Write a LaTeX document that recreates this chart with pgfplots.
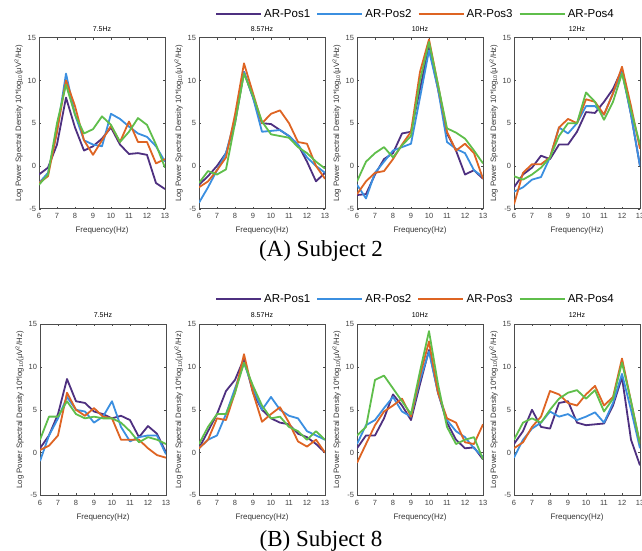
\documentclass[border=0pt]{standalone}
\usepackage{pgfplots}
\usepackage{pgfplotstable}
\pgfplotsset{compat=1.18}
\usepackage{fontspec}
\setmainfont{Liberation Sans}
\newfontfamily\capfont{Liberation Serif}

\definecolor{cA}{RGB}{78,48,128}
\definecolor{cB}{RGB}{59,143,224}
\definecolor{cC}{RGB}{222,100,35}
\definecolor{cD}{RGB}{95,190,75}

\pgfplotstableread{
x a b c d
6 -1.0 -2.0 -2.0 -2.2
6.5 -0.2 -0.8 -1.2 -1.0
7 2.5 4.0 4.0 5.0
7.5 8.0 10.8 10.0 9.5
8 4.5 6.0 7.0 6.0
8.5 1.8 3.0 3.0 3.8
9 2.3 2.5 1.3 4.3
9.5 3.2 2.3 3.0 5.8
10 4.5 6.1 4.7 4.8
10.5 2.5 5.5 2.8 2.8
11 1.4 4.6 5.2 4.0
11.5 1.5 3.8 2.8 5.6
12 1.3 3.4 2.8 4.8
12.5 -2.0 2.3 0.3 2.5
13 -2.7 0.5 0.8 -0.2
}\tAa
\pgfplotstableread{
x a b c d
6 -2.2 -4.3 -2.5 -2.0
6.5 -1.2 -2.5 -1.8 -0.6
7 0.0 -0.5 -0.5 -1.0
7.5 1.5 1.5 1.0 -0.4
8 5.0 5.5 6.0 5.0
8.5 11.0 11.0 12.0 10.8
9 8.0 8.0 8.5 8.2
9.5 5.0 4.0 5.0 5.2
10 4.9 4.1 6.1 3.7
10.5 4.2 4.2 6.5 3.5
11 3.5 3.5 5.0 3.3
11.5 2.5 2.5 2.8 2.2
12 0.5 1.0 2.6 1.5
12.5 -1.8 0.0 0.0 0.5
13 -0.8 -0.8 -1.5 -0.3
}\tAb
\pgfplotstableread{
x a b c d
6 -3.4 -2.2 -3.3 -1.8
6.5 -3.3 -3.8 -1.8 0.5
7 -1.0 -0.8 -0.8 1.5
7.5 0.8 0.5 -0.6 2.2
8 1.5 1.8 0.8 1.0
8.5 3.8 2.2 2.5 2.4
9 4.0 2.6 4.0 3.5
9.5 9.0 8.0 11.0 10.0
10 14.0 13.5 14.8 14.5
10.5 9.0 9.0 9.5 9.5
11 3.8 2.8 4.0 4.4
11.5 1.8 2.0 1.8 3.9
12 -1.0 1.5 2.6 3.2
12.5 -0.5 -0.5 1.5 1.8
13 -1.5 -1.3 -1.5 0.3
}\tAc
\pgfplotstableread{
x a b c d
6 -2.5 -3.0 -4.5 -1.2
6.5 -1.0 -2.5 -0.8 -1.6
7 -0.2 -1.6 0.2 -1.0
7.5 1.2 -1.3 0.2 -0.2
8 0.8 1.0 1.0 1.0
8.5 2.5 4.5 4.5 3.5
9 2.5 3.8 5.5 5.0
9.5 4.0 5.0 5.0 5.0
10 6.3 7.0 7.8 8.6
10.5 6.2 7.0 7.5 7.5
11 7.5 6.0 6.0 5.4
11.5 9.0 8.5 8.5 7.5
12 11.3 11.0 11.6 10.8
12.5 6.0 6.0 7.0 6.5
13 0.0 0.0 2.0 2.5
}\tAd
\pgfplotstableread{
x a b c d
6 0.5 -1.0 0.3 1.5
6.5 2.0 2.0 0.8 4.2
7 4.5 4.0 2.0 4.2
7.5 8.6 6.5 7.0 6.0
8 6.0 5.0 5.0 4.5
8.5 5.8 4.8 4.3 4.0
9 4.8 3.5 5.2 4.2
9.5 4.5 4.2 4.2 4.0
10 4.0 6.0 4.0 4.0
10.5 4.3 3.0 1.5 3.5
11 3.8 1.3 1.5 2.5
11.5 1.8 1.8 1.5 1.2
12 3.1 2.0 0.5 1.8
12.5 2.2 2.0 -0.3 1.5
13 0.0 -0.2 -0.6 1.0
}\tBa
\pgfplotstableread{
x a b c d
6 0.5 0.5 0.5 1.0
6.5 2.5 1.5 1.5 3.0
7 4.5 2.0 4.0 4.5
7.5 7.2 4.5 3.8 4.5
8 8.5 7.5 7.0 7.0
8.5 11.0 10.5 11.5 10.5
9 7.0 7.5 7.0 7.8
9.5 5.0 5.0 3.6 5.5
10 4.0 6.5 4.5 4.0
10.5 3.5 5.0 5.3 4.2
11 3.3 4.3 3.5 3.0
11.5 2.2 4.0 1.3 2.5
12 1.8 2.5 0.7 1.5
12.5 1.0 2.0 1.5 2.5
13 0.0 1.5 0.0 1.5
}\tBb
\pgfplotstableread{
x a b c d
6 0.5 1.0 -1.2 2.0
6.5 2.0 3.2 1.0 3.0
7 2.0 3.8 3.2 8.5
7.5 4.0 5.2 4.8 9.0
8 6.8 6.5 5.5 7.5
8.5 5.5 4.8 6.3 6.0
9 3.8 4.2 4.2 4.5
9.5 8.0 8.5 9.0 9.5
10 12.0 11.8 13.0 14.2
10.5 7.0 7.0 7.0 8.0
11 3.5 3.8 4.0 3.0
11.5 1.5 2.5 3.5 1.0
12 0.5 1.8 1.2 1.5
12.5 0.6 0.5 1.0 1.8
13 -0.8 -0.5 3.3 -0.8
}\tBc
\pgfplotstableread{
x a b c d
6 1.0 -0.6 0.5 1.5
6.5 2.5 1.5 1.2 3.5
7 5.0 2.8 3.0 4.0
7.5 3.0 3.5 4.2 3.5
8 2.8 4.8 7.2 5.0
8.5 5.8 4.2 6.8 6.3
9 6.0 4.5 5.8 7.0
9.5 3.5 3.8 5.5 7.3
10 3.2 4.2 6.8 6.3
10.5 3.3 4.7 7.8 7.3
11 3.4 3.5 5.5 4.8
11.5 5.5 5.8 6.5 6.3
12 8.8 9.2 11.0 10.5
12.5 1.5 5.0 6.0 6.0
13 -1.5 0.5 1.0 1.0
}\tBd

\pgfplotsset{panel/.style={
  scale only axis, width=126pt, height=171pt, anchor=north west,
  xmin=6, xmax=13, ymin=-5, ymax=15,
  xtick={6,...,13}, ytick={-5,0,5,10,15},
  tick align=inside, major tick length=2pt,
  axis line style={black!70, line width=0.5pt},
  tick style={black!70, line width=0.4pt},
  tick label style={font=\fontsize{7.5}{8}\selectfont, text=black!75},
  xticklabel style={yshift=-1.5pt},
  yticklabel style={xshift=0.5pt},
  /pgf/number format/assume math mode=true,
  title style={font=\fontsize{7}{8}\selectfont, yshift=-3pt},
  xlabel={Frequency(Hz)},
  xlabel style={font=\fontsize{8}{9}\selectfont, yshift=-1pt, text=black!80},
  ylabel={Log Power Spectral Density 10*log\textsubscript{10}(μV\textsuperscript{2}/Hz)},
  ylabel style={font=\fontsize{7.8}{8}\selectfont, yshift=-2pt, text=black!80},
  every axis plot/.append style={line width=1.8pt, line join=round},
  legend image code/.code={\draw[##1, line width=2.2pt] (0pt,0pt) -- (45pt,0pt);},
}}

\newcommand{\panel}[5]{%
\begin{axis}[panel, at={(#1pt,-#2pt)}, title={#3}, #5]
\addplot[cA] table[x=x,y=a]{#4};
\addplot[cB] table[x=x,y=b]{#4};
\addplot[cC] table[x=x,y=c]{#4};
\addplot[cD] table[x=x,y=d]{#4};
\end{axis}}

\begin{document}
\begin{tikzpicture}
\useasboundingbox (0pt,0pt) rectangle (642pt,-551pt);
\panel{39}{37.7}{7.5Hz}{\tAa}{legend entries={AR-Pos1,AR-Pos2,AR-Pos3,AR-Pos4}, legend columns=4,
  legend style={at={(1.395,1.1386)}, anchor=west, draw=none, fill=none, inner sep=0pt,
  font=\fontsize{11.5}{12}\selectfont, /tikz/every even column/.append style={column sep=4pt}}}
\panel{199}{37.7}{8.57Hz}{\tAb}{}
\panel{357}{37.7}{10Hz}{\tAc}{}
\panel{514}{37.7}{12Hz}{\tAd}{}
\panel{40}{324.3}{7.5Hz}{\tBa}{legend entries={AR-Pos1,AR-Pos2,AR-Pos3,AR-Pos4}, legend columns=4,
  legend style={at={(1.387,1.148)}, anchor=west, draw=none, fill=none, inner sep=0pt,
  font=\fontsize{11.5}{12}\selectfont, /tikz/every even column/.append style={column sep=4pt}}}
\panel{199}{324.3}{8.57Hz}{\tBb}{}
\panel{357}{324.3}{10Hz}{\tBc}{}
\panel{514}{324.3}{12Hz}{\tBd}{}
\node[font=\capfont\fontsize{23}{24}\selectfont] at (321pt,-251pt) {(A) Subject 2};
\node[font=\capfont\fontsize{23}{24}\selectfont] at (321pt,-541pt) {(B) Subject 8};
\end{tikzpicture}
\end{document}
